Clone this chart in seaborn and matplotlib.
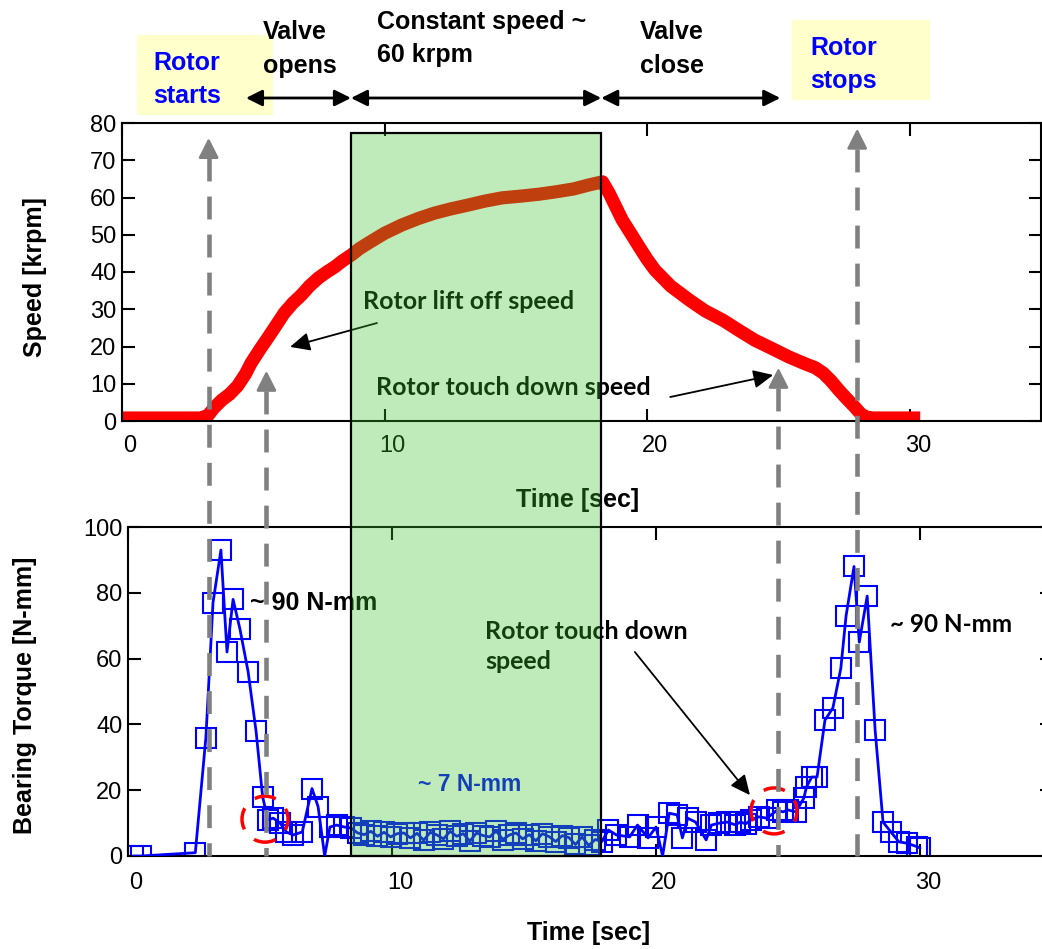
import numpy as np
import pandas as pd
import seaborn as sns
import matplotlib
matplotlib.use("Agg")
import matplotlib.pyplot as plt
from matplotlib.patches import Rectangle, Ellipse
from matplotlib.lines import Line2D
from matplotlib import transforms as mtrans

sns.set_theme(style="white")
plt.rcParams['font.family'] = ['Liberation Sans', 'DejaVu Sans']

# ---------------- data ----------------
speed_time = [0.0, 1.0, 2.0, 3.0, 3.28, 3.5, 3.8, 4.1, 4.4, 4.7, 4.92, 5.25, 5.57, 5.9,
              6.18, 6.5, 6.83, 7.15, 7.48, 7.8, 8.09, 8.4, 8.74, 9.05, 9.39, 10.0, 10.65,
              11.3, 11.9, 12.5, 13.2, 13.8, 14.47, 15.23, 15.9, 16.5, 17.2, 17.8, 18.3,
              18.55, 18.8, 19.05, 19.4, 19.7, 20.0, 20.3, 20.9, 21.6, 22.2, 22.9, 23.5,
              24.1, 24.8, 25.4, 26.0, 26.4, 26.7, 27.0, 27.3, 27.6, 27.9, 28.1, 28.3,
              28.6, 29.2, 30.4]
speed_krpm = [0.8, 0.8, 0.8, 0.8, 1.5, 3.5, 5.6, 7.2, 9.4, 12.6, 15.6, 19.2, 22.5, 26.0,
              29.0, 31.6, 33.8, 36.3, 38.4, 40.0, 41.3, 43.0, 44.6, 46.3, 47.8, 50.4, 52.6,
              54.4, 55.8, 56.9, 58.0, 59.0, 59.9, 60.4, 60.9, 61.5, 62.3, 63.4, 64.2,
              61.2, 57.6, 54.0, 50.1, 46.7, 43.4, 40.5, 36.2, 32.5, 29.6, 27.0, 24.3,
              21.7, 19.3, 17.2, 15.4, 14.3, 12.9, 10.8, 8.3, 6.0, 3.8, 2.2, 1.1,
              0.8, 0.8, 0.8]

torque_time = [0.2, 0.5, 2.55, 2.95, 3.22, 3.52, 3.75, 3.98, 4.24, 4.55, 4.85, 5.10, 5.30,
               5.50, 5.76, 6.00, 6.25, 6.60, 6.97, 7.20, 7.65, 7.90,
               8.20, 8.45, 8.70, 8.95, 9.20, 9.45, 9.70, 9.95, 10.20, 10.45, 10.70, 10.95,
               11.20, 11.45, 11.70, 11.95, 12.20, 12.45, 12.70, 12.95, 13.20, 13.45, 13.70,
               13.95, 14.20, 14.45, 14.70, 14.95, 15.20, 15.45, 15.70, 15.95, 16.20, 16.45,
               16.70, 16.95, 17.20, 17.45, 17.70, 17.95,
               18.2, 18.5, 19.0, 19.3, 19.7, 20.0, 20.5, 20.8, 21.0, 21.2, 21.5, 21.9, 22.1,
               22.4, 22.7, 23.0, 23.2, 23.4, 23.6, 23.9, 24.2, 24.6, 24.8, 25.0, 25.3, 25.6,
               25.7, 25.9, 26.1, 26.4, 26.7, 27.0, 27.2, 27.5, 27.7, 28.0, 28.3, 28.6, 28.9,
               29.2, 29.5, 29.9, 30.0]
torque_nmm = [0.0, 0.0, 1.0, 36.0, 77.0, 93.0, 62.0, 78.0, 69.0, 56.0, 38.0, 18.0, 11.0,
              11.5, 10.0, 7.3, 6.4, 7.3, 20.5, 15.0, 8.8, 9.4,
              8.8, 8.5, 7.0, 6.5, 7.5, 6.0, 7.2, 5.8, 6.8, 7.0, 5.5, 6.9,
              4.8, 7.2, 6.4, 5.2, 7.5, 6.0, 6.8, 4.5, 7.0, 6.2, 5.8,
              7.6, 5.0, 6.4, 7.0, 5.2, 6.5, 4.6, 6.8, 5.9, 4.4, 6.2,
              5.6, 3.5, 5.8, 3.2, 5.0, 4.4,
              7.9, 6.4, 5.8, 9.4, 5.5, 8.8, 13.0, 12.5, 5.5, 11.5, 10.3, 4.9, 9.4,
              10.0, 10.3, 9.5, 10.3, 9.8, 11.0, 11.9, 11.5, 14.0, 13.4, 14.0, 13.4, 17.6,
              21.0, 24.0, 24.0, 41.3, 45.0, 57.0, 73.0, 88.0, 65.0, 79.0, 38.3, 10.3, 7.3,
              4.3, 3.9, 2.8, 2.4]
# line-only dips of the torque trace (no marker drawn there)
dip_time = [7.45, 20.25]
dip_nmm = [0.0, 0.0]

phase_edges = [4.72, 8.72, 18.25, 25.07]
phase_labels = ["Valve\nopens", "Constant speed ~\n60 krpm", "Valve\nclose"]
event_times = [3.3, 5.5, 25.0, 28.0]
event_tips = [76.0, 13.5, 14.3, 78.5]

# ---------------- figure ----------------
W, H = 1042, 949
fig = plt.figure(figsize=(W / 100, H / 100), dpi=100)
fig.patch.set_facecolor('white')


def fx(px):
    return px / W


def fy(py):
    return 1 - py / H


ax1 = fig.add_axes([fx(122), fy(421), 919 / W, (421 - 123) / H])
ax2 = fig.add_axes([fx(128), fy(856), 924 / W, (856 - 527) / H])

# speed curve
speed_df = pd.DataFrame({"t": speed_time, "v": speed_krpm})
sns.lineplot(data=speed_df, x="t", y="v", ax=ax1, color="red", lw=9.5,
             estimator=None, sort=False, solid_capstyle="butt", solid_joinstyle="round")

# torque line (includes dips) and markers
line_df = pd.DataFrame({"t": torque_time + dip_time, "v": torque_nmm + dip_nmm}).sort_values("t")
sns.lineplot(data=line_df, x="t", y="v", ax=ax2, color="blue", lw=2.0,
             estimator=None, sort=False, zorder=3)
mk_df = pd.DataFrame({"t": torque_time, "v": torque_nmm})
sns.lineplot(data=mk_df, x="t", y="v", ax=ax2, lw=0, marker="s", markersize=14,
             markerfacecolor="none", markeredgecolor="blue", markeredgewidth=1.5,
             estimator=None, sort=False, zorder=2)

for ax, ylim, yt in [(ax1, (0, 80), range(0, 81, 10)), (ax2, (0, 100), range(0, 101, 20))]:
    ax.set_xlim(0, 35)
    ax.set_ylim(*ylim)
    ax.set_xticks([0, 10, 20, 30])
    ax.set_yticks(list(yt))
    for s in ax.spines.values():
        s.set_color("black")
        s.set_linewidth(1.5)
    ax.tick_params(direction="in", length=9, width=1.5, top=True, right=True,
                   labelsize=17, colors="black", left=True, bottom=True)
    ax.tick_params(axis="y", pad=4)
    ax.set_facecolor("white")

ax1.tick_params(axis="x", pad=10)
ax2.tick_params(axis="x", pad=11.5)
off = mtrans.ScaledTranslation(8 / 100, 0, fig.dpi_scale_trans)
for ax in (ax1, ax2):
    for lbl in ax.get_xticklabels():
        lbl.set_transform(lbl.get_transform() + off)

ax1.set_ylabel("Speed [krpm]", fontsize=18, fontweight="bold", color="black")
ax1.yaxis.set_label_coords(-0.0947, 0.483)
ax1.yaxis.label.set_va("center")
ax1.set_xlabel("Time [sec]", fontsize=18, fontweight="bold", color="black")
ax1.xaxis.set_label_coords(0.496, -0.265)
ax1.xaxis.label.set_va("center")

ax2.set_ylabel("Bearing Torque [N-mm]", fontsize=18, fontweight="bold", color="black")
ax2.yaxis.set_label_coords(-0.1115, 0.489)
ax2.yaxis.label.set_va("center")
ax2.set_xlabel("Time [sec]", fontsize=18, fontweight="bold", color="black")
ax2.xaxis.set_label_coords(0.498, -0.234)
ax2.xaxis.label.set_va("center")

calib = ["Lato", "DejaVu Sans"]
arrow_kw = dict(arrowstyle="-|>,head_length=0.6,head_width=0.28", color="black",
                lw=1.3, mutation_scale=20, shrinkA=0, shrinkB=0)

# top-axis annotations
ax1.text(9.18, 32.2, "Rotor lift off speed", fontsize=18, fontweight="bold",
         family=calib, color="black", va="center", ha="left")
ax1.annotate("", xy=(6.4, 19.9), xytext=(9.71, 26.3), arrowprops=arrow_kw)
ax1.text(9.68, 8.86, "Rotor touch down speed", fontsize=18, fontweight="bold",
         family=calib, color="black", va="center", ha="left")
ax1.annotate("", xy=(24.8, 12.35), xytext=(20.88, 6.44), arrowprops=arrow_kw)

# bottom-axis annotations
ax2.text(4.62, 76.9, "~ 90 N-mm", fontsize=18, fontweight="bold", color="black",
         va="center", ha="left")
ax2.text(28.86, 70.5, "~ 90 N-mm", fontsize=17.5, fontweight="bold", family=calib,
         color="black", va="center", ha="left")
ax2.text(13.52, 63.7, "Rotor touch down\nspeed", fontsize=18, fontweight="bold",
         family=calib, color="black", va="center", ha="left", linespacing=1.4)
ax2.annotate("", xy=(23.56, 18.5), xytext=(19.2, 62.0), arrowprops=arrow_kw)
ax2.text(12.95, 21.6, "~ 7 N-mm", fontsize=16.5, fontweight="bold", color="blue",
         va="center", ha="center")

for (cx, cy) in [(5.19, 11.2), (24.47, 13.7)]:
    ax2.add_patch(Ellipse((cx, cy), 46 / 26.4, 46 / 3.29, fill=False, ec="red",
                          lw=2.5, ls=(3.15, (6.3, 4.07)), zorder=5))

# ---------------- figure-level overlays ----------------
blend = mtrans.blended_transform_factory(ax1.transData, fig.transFigure)
inv = fig.transFigure.inverted()
y_bottom = inv.transform(ax2.transData.transform((0, 0)))[1]

for t, tip in zip(event_times, event_tips):
    y_tip = inv.transform(ax1.transData.transform((t, tip)))[1]
    ax1.annotate("", xy=(t, tip), xytext=(t, tip - 2.0),
                 arrowprops=dict(arrowstyle="-|>,head_length=0.75,head_width=0.38",
                                 color="#808080", lw=2, mutation_scale=16,
                                 shrinkA=0, shrinkB=0),
                 annotation_clip=False, zorder=6)
    fig.add_artist(Line2D([t, t], [y_tip - 20 / H, y_bottom], transform=blend,
                          color="#808080", lw=3.3, dashes=(5.0, 3.3), zorder=4))

# phase double arrows and labels
y_arr = fy(98)
for a, b in zip(phase_edges[:-1], phase_edges[1:]):
    ax1.annotate("", xy=(b, y_arr), xytext=(a, y_arr),
                 xycoords=("data", "figure fraction"), textcoords=("data", "figure fraction"),
                 arrowprops=dict(arrowstyle="<|-|>,head_length=0.7,head_width=0.35",
                                 color="black", lw=2, mutation_scale=14,
                                 shrinkA=0, shrinkB=0),
                 annotation_clip=False)

label_pos = [(263, 49), (377, 38.5), (640, 49)]
for (px, py), lab in zip(label_pos, phase_labels):
    fig.text(fx(px), fy(py), lab, fontsize=18, fontweight="bold", color="black",
             ha="left", va="center", linespacing=1.5)

# yellow boxes
fig.add_artist(Rectangle((fx(137), fy(115)), 136 / W, 80 / H, transform=fig.transFigure,
                         facecolor="#FFFFCC", edgecolor="none", zorder=-1))
fig.add_artist(Rectangle((fx(792), fy(100)), 138 / W, 80 / H, transform=fig.transFigure,
                         facecolor="#FFFFCC", edgecolor="none", zorder=-1))
fig.text(fx(153), fy(79.5), "Rotor\nstarts", fontsize=18, fontweight="bold", color="blue",
         ha="left", va="center", linespacing=1.5)
fig.text(fx(810), fy(64.5), "Rotor\nstops", fontsize=18, fontweight="bold", color="blue",
         ha="left", va="center", linespacing=1.5)

# green constant-speed window (semi-transparent overlay on top)
y_top_rect = fy(133)
fig.add_artist(Rectangle((phase_edges[1], y_bottom), phase_edges[2] - phase_edges[1],
                         y_top_rect - y_bottom, transform=blend,
                         facecolor=(0.24, 0.77, 0.19, 0.325), edgecolor="black",
                         lw=1.6, zorder=10))

fig.savefig("out.png", dpi=100)
